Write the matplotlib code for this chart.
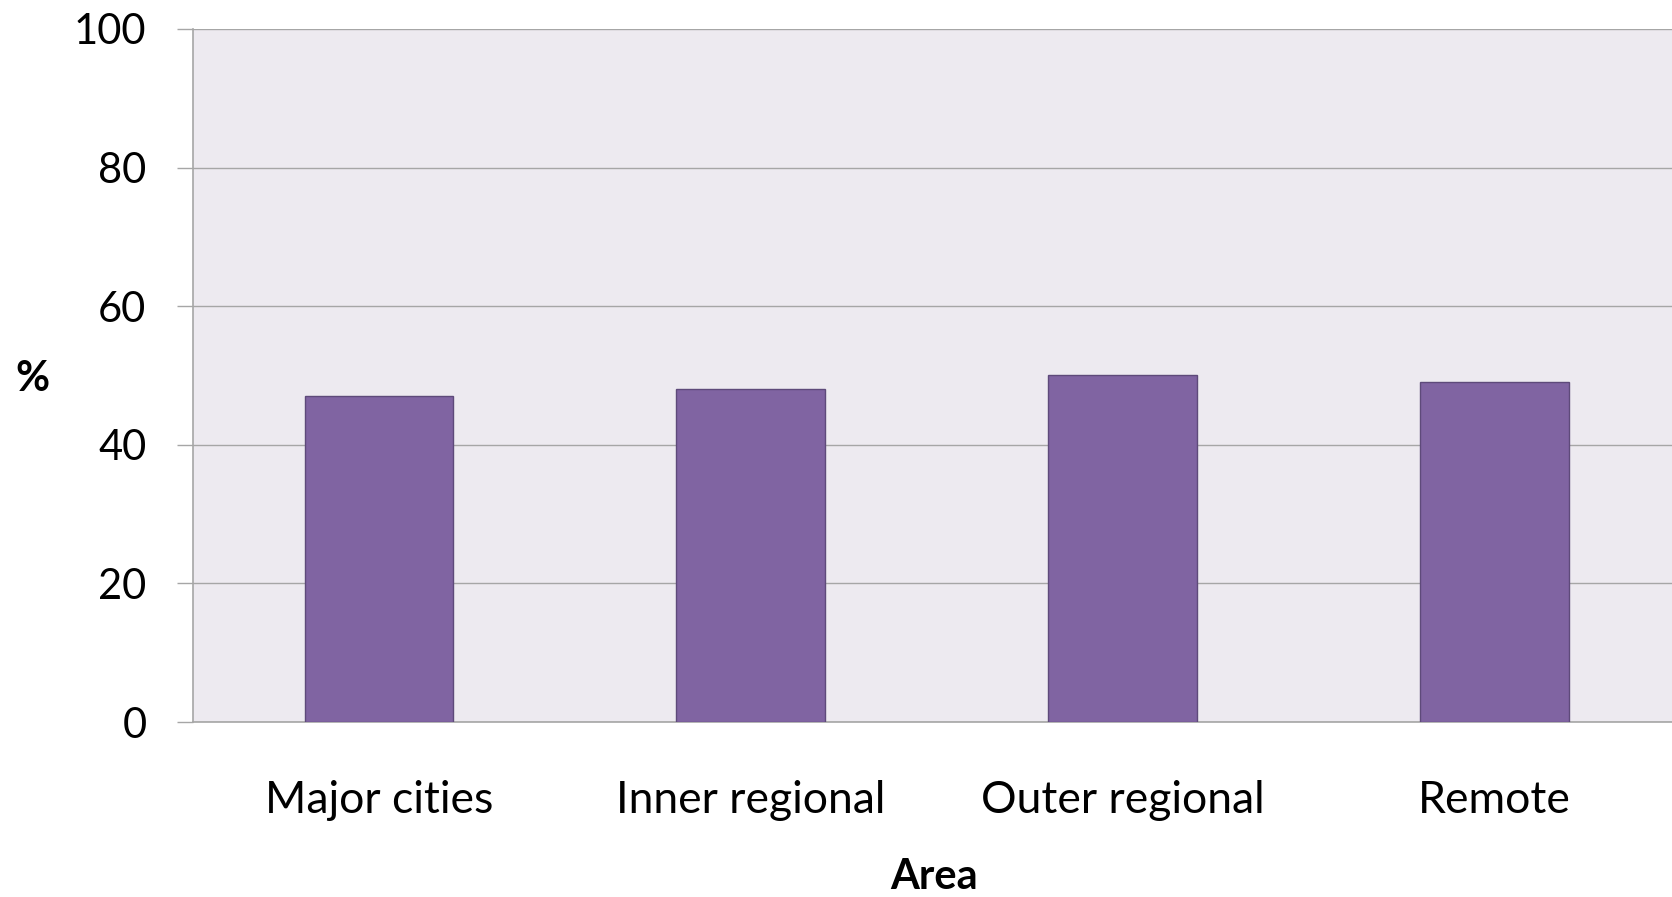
import matplotlib
matplotlib.use("Agg")
import matplotlib.pyplot as plt
import numpy as np

areas = ["Major cities", "Inner regional", "Outer regional", "Remote"]
percent = [47, 48, 50, 49]
y_ticks = [0, 20, 40, 60, 80, 100]

plt.rcParams["font.family"] = ["Lato", "DejaVu Sans"]

fig = plt.figure(figsize=(16.72, 8.97), dpi=100)
ax = fig.add_axes([193 / 1672, 1 - 722 / 897, 1 - 193 / 1672, (722 - 29) / 897])

ax.set_facecolor("#EDEAF0")
x = np.arange(len(areas))
ax.bar(x, percent, width=0.40, color="#8064A2", edgecolor="#5E4A7A", linewidth=1.0, zorder=3)

ax.set_ylim(0, 100)
ax.set_xlim(-0.5, 3.478)
ax.set_yticks(y_ticks)
ax.set_xticks(x)
ax.set_xticklabels(areas)
ax.yaxis.grid(True, color="#A6A6A6", linewidth=1.0, zorder=0)
ax.set_axisbelow(True)

for side in ("top", "right"):
    ax.spines[side].set_visible(False)
for side in ("left", "bottom"):
    ax.spines[side].set_color("#A6A6A6")
    ax.spines[side].set_linewidth(1.2)

ax.tick_params(axis="y", length=11.5, width=1.0, color="#A6A6A6", pad=22, labelsize=30)
ax.tick_params(axis="x", length=0, pad=42, labelsize=32)

fig.text(934 / 1672, 1 - 877 / 897, "Area", ha="center", va="center", fontsize=30, fontweight="bold")
fig.text(32 / 1672, 1 - 379 / 897, "%", ha="center", va="center", fontsize=30, fontweight="bold")

fig.savefig("out.png", dpi=100)
